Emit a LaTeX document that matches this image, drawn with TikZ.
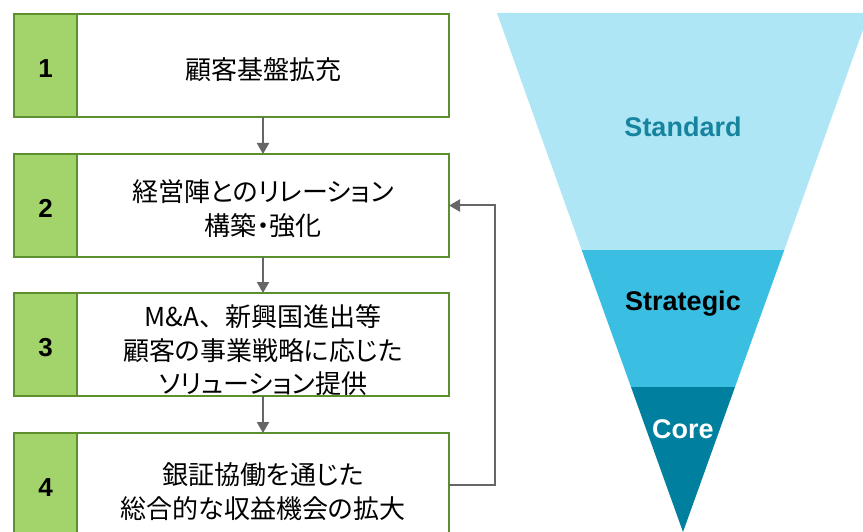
\documentclass[tikz,border=0pt]{standalone}
\usepackage{fontspec}
\setmainfont{Liberation Sans}
\newfontfamily\jp[RawFeature=+palt]{Noto Sans CJK JP}
\newfontfamily\jpw{Noto Sans CJK JP}
\usetikzlibrary{arrows.meta}
\definecolor{gborder}{HTML}{5E8F2E}
\definecolor{gfill}{HTML}{A3D36B}
\definecolor{arrgray}{HTML}{666666}
\definecolor{fstd}{HTML}{AEE6F6}
\definecolor{fstr}{HTML}{3ABFE3}
\definecolor{fcore}{HTML}{00809E}
\definecolor{stdtext}{HTML}{17849F}
\begin{document}
\begin{tikzpicture}[x=1pt,y=-1pt,
  numbox/.style={draw=gborder, line width=2.5pt, fill=gfill, minimum width=63pt, minimum height=103pt, inner sep=0pt, outer sep=0pt, anchor=north west},
  numtxt/.style={font=\bfseries\fontsize{26}{26}\selectfont, inner sep=0pt, yshift=-3pt},
  txtbox/.style={draw=gborder, line width=2.5pt, fill=white, minimum width=372pt, minimum height=103pt, inner sep=0pt, outer sep=0pt, anchor=north west},
  jtxt/.style={inner sep=0pt, align=center, font=\jp\fontsize{26}{33.5}\selectfont},
  arr/.style={draw=arrgray, line width=2pt, -{Triangle[length=11pt,width=12pt]}},
  flabel/.style={font=\bfseries\fontsize{27}{27}\selectfont, inner sep=0pt}
]
\useasboundingbox (0,0) rectangle (863,532);
\clip (0,0) rectangle (863,532);
% funnel
\fill[fstd] (497,13) -- (869,13) -- (784.3,250) -- (581.7,250) -- cycle;
\fill[fstr] (581.7,250) -- (784.3,250) -- (735,387) -- (631,387) -- cycle;
\fill[fcore] (631,387) -- (735,387) -- (683,532) -- cycle;
\node[flabel, text=stdtext] (std) at (683,127) {Standard};
\node[flabel, text=black] (str) at (683,304) {Strategic};
\node[flabel, text=white] (core) at (683,429) {Core};
% boxes
\node[numbox] (n1) at (14,14) {};
\node[numbox] (n2) at (14,154) {};
\node[numbox] (n3) at (14,293) {};
\node[numbox] (n4) at (14,433) {};
\node[numtxt] (d1) at (n1.center) {1};
\node[numtxt] (d2) at (n2.center) {2};
\node[numtxt] (d3) at (n3.center) {3};
\node[numtxt] (d4) at (n4.center) {4};
\node[txtbox] (t1) at (77,14) {};
\node[txtbox] (t2) at (77,154) {};
\node[txtbox] (t3) at (77,293) {};
\node[txtbox] (t4) at (77,433) {};
\node[jtxt, yshift=-4pt] (l1) at (t1.center) {顧客基盤拡充};
\node[jtxt, yshift=-3pt] (l2) at (t2.center) {経営陣とのリレーション\\構築・強化};
\node[jtxt, yshift=-6pt] (l3) at (t3.center) {M\&A{\jpw 、}新興国進出等\\顧客の事業戦略に応じた\\ソリューション提供};
\node[jtxt, yshift=-7pt] (l4) at (t4.center) {銀証協働を通じた\\総合的な収益機会の拡大};
% arrows
\draw[arr] (t1.south) -- (t2.north);
\draw[arr] (t2.south) -- (t3.north);
\draw[arr] (t3.south) -- (t4.north);
\coordinate (fb) at (495,300);
\draw[arr] (t4.east) -- (t4.east -| fb) |- (t2.east);
\end{tikzpicture}
\end{document}
